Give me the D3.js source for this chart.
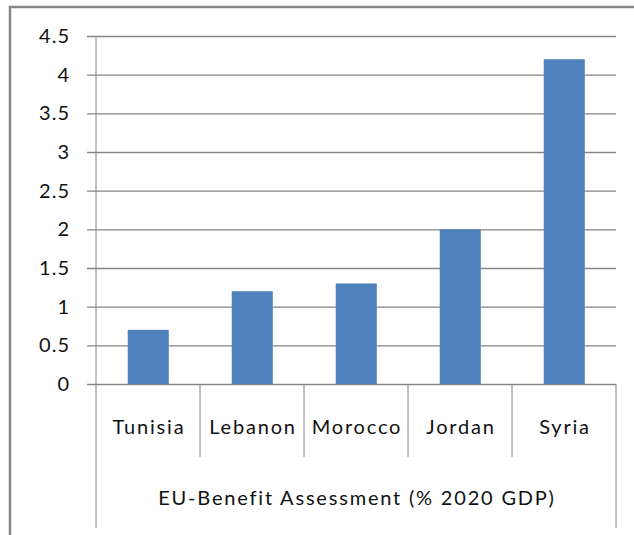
<!DOCTYPE html>
<html>
<head>
<meta charset="utf-8">
<script src="https://cdn.jsdelivr.net/npm/d3@7"></script>
<style>
  body { margin: 0; background: #fff; }
  text { font-family: Lato, "Open Sans", sans-serif; fill: #111; }
</style>
</head>
<body>
<div id="chart"></div>
<script>
// Data
const countries = ['Tunisia', 'Lebanon', 'Morocco', 'Jordan', 'Syria'];
const benefit = [0.7, 1.2, 1.3, 2.0, 4.2];
const yTicks = [0, 0.5, 1, 1.5, 2, 2.5, 3, 3.5, 4, 4.5];
const axisTitle = 'EU-Benefit Assessment (% 2020 GDP)';

const W = 634, H = 535;
const plot = { left: 96, right: 616, top: 36, bottom: 384 };

const svg = d3.select('#chart')
    .append('svg')
    .attr('width', W)
    .attr('height', H);

// Outer chart frame
svg.append('rect')
    .attr('x', 10)
    .attr('y', 7)
    .attr('width', W + 20)
    .attr('height', H + 20)
    .attr('fill', 'none')
    .attr('stroke', '#868686')
    .attr('stroke-width', 2.5);

const x = d3.scaleBand()
    .domain(countries)
    .range([plot.left, plot.right])
    .paddingInner(0)
    .paddingOuter(0);

const y = d3.scaleLinear()
    .domain([0, 4.5])
    .range([plot.bottom, plot.top]);

// Gridlines + y ticks
svg.append('g')
    .attr('transform', `translate(${plot.left},0)`)
    .call(d3.axisLeft(y)
        .tickValues(yTicks)
        .tickSize(-(plot.right - plot.left))
        .tickSizeOuter(0)
        .tickFormat(''))
    .call(g => g.select('.domain').remove())
    .call(g => g.selectAll('line')
        .attr('x1', -9)
        .attr('stroke', '#868686')
        .attr('stroke-width', 1.3));

// Y labels
svg.append('g')
    .selectAll('text')
    .data(yTicks)
    .enter().append('text')
    .attr('x', 70)
    .attr('y', d => y(d))
    .attr('dy', '0.35em')
    .attr('text-anchor', 'end')
    .style('font-size', '20px')
    .style('letter-spacing', '1px')
    .text(d => d);

// Bars
svg.selectAll('.bar')
    .data(benefit)
    .enter().append('rect')
    .attr('class', 'bar')
    .attr('x', (d, i) => x(countries[i]) + x.bandwidth() * 0.305)
    .attr('width', x.bandwidth() * 0.395)
    .attr('y', d => y(d))
    .attr('height', d => y(0) - y(d))
    .attr('fill', '#4F81BD');

// Axis lines
const axisColor = '#868686';
svg.append('line')
    .attr('x1', plot.left).attr('x2', plot.left)
    .attr('y1', plot.top).attr('y2', 528)
    .attr('stroke', axisColor);
svg.append('line')
    .attr('x1', plot.right).attr('x2', plot.right)
    .attr('y1', plot.bottom).attr('y2', 528)
    .attr('stroke', axisColor);

// Category dividers
svg.selectAll('.divider')
    .data(countries.slice(1))
    .enter().append('line')
    .attr('class', 'divider')
    .attr('x1', d => x(d)).attr('x2', d => x(d))
    .attr('y1', plot.bottom).attr('y2', 457)
    .attr('stroke', axisColor);

// Category labels
svg.selectAll('.cat')
    .data(countries)
    .enter().append('text')
    .attr('class', 'cat')
    .attr('x', d => x(d) + x.bandwidth() / 2 + 1)
    .attr('y', 427)
    .attr('dy', '0.35em')
    .attr('text-anchor', 'middle')
    .style('font-size', '20px')
    .style('letter-spacing', '1.8px')
    .text(d => d);

// Axis title
svg.append('text')
    .attr('x', (plot.left + plot.right) / 2 + 1)
    .attr('y', 498)
    .attr('dy', '0.35em')
    .attr('text-anchor', 'middle')
    .style('font-size', '20px')
    .style('letter-spacing', '1.8px')
    .text(axisTitle);
</script>
</body>
</html>
